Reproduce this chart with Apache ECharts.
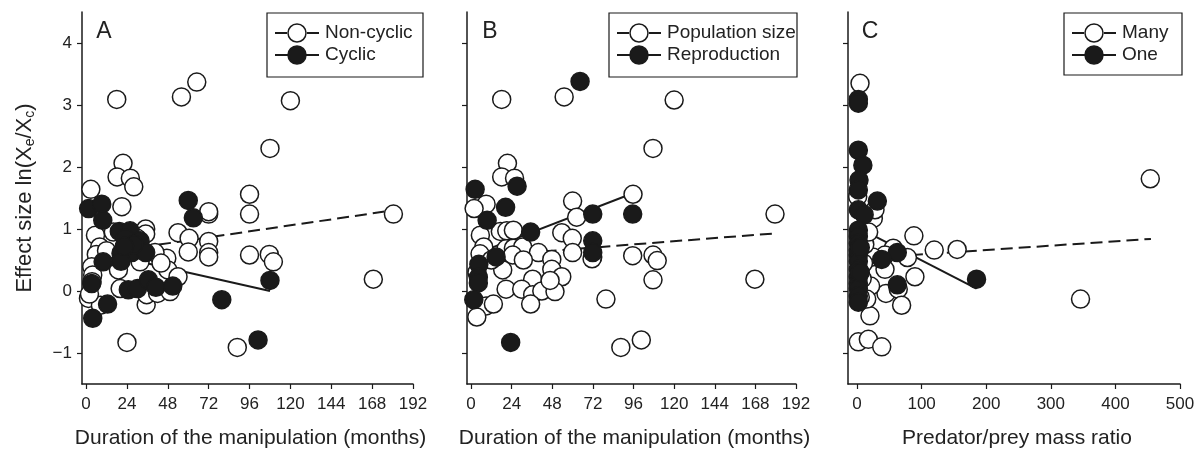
<!DOCTYPE html>
<html>
<head>
<meta charset="utf-8">
<script src="https://cdn.jsdelivr.net/npm/echarts@6/dist/echarts.min.js"></script>
<style>
html,body{margin:0;padding:0;background:#fff;}
#chart{width:1202px;height:451px;}
</style>
</head>
<body>
<div id="chart"></div>
<script>
// ---------------- DATA ----------------
const durationTicks = [0, 24, 48, 72, 96, 120, 144, 168, 192];
const massTicks = [0, 100, 200, 300, 400, 500];
const yTicks = [-1, 0, 1, 2, 3, 4];

const panelLetters = ['A', 'B', 'C'];
const legendA = ['Non-cyclic', 'Cyclic'];
const legendB = ['Population size', 'Reproduction'];
const legendC = ['Many', 'One'];
const xTitleDuration = 'Duration of the manipulation (months)';
const xTitleMass = 'Predator/prey mass ratio';

// Panel A: [duration, effect size]
const nonCyclic = [
  [18,3.09],[56,3.13],[65,3.37],[120,3.07],[108,2.30],[21.7,2.06],[18.2,1.84],[26,1.82],[28,1.68],
  [2.8,1.64],[21,1.36],[96,1.56],[96,1.24],[72,1.24],[72,1.28],[180.5,1.24],[5.5,0.90],[16,0.95],
  [35,1.0],[35,0.92],[54,0.94],[60.5,0.85],[72,0.80],[8,0.71],[6,0.59],[60,0.63],[72,0.62],[72,0.55],
  [96,0.58],[107.6,0.59],[110,0.47],[47.4,0.53],[40.5,0.62],[3.3,0.39],[19,0.34],[48,0.34],[54,0.23],
  [3.9,0.26],[20,0.04],[1.4,-0.12],[8.4,-0.23],[35.3,-0.22],[35.6,-0.06],[42,-0.04],[49.3,-0.01],
  [24,-0.83],[88.8,-0.91],[168.7,0.19],[31.7,0.47],[23,0.72],[27,0.70],[14,0.55],[3.5,0.15],[12,0.65],
  [44,0.45],[30,0.85],[2,-0.05]
];
const cyclic = [
  [1.5,1.33],[9.2,1.40],[9.8,1.14],[60,1.46],[63,1.18],[19.5,0.96],[25.8,0.97],[31.7,0.81],[20.5,0.61],
  [26.8,0.62],[35,0.62],[20.5,0.48],[10,0.47],[3.3,0.12],[12.6,-0.21],[3.9,-0.44],[24.8,0.02],[30.2,0.04],
  [36.6,0.18],[41,0.06],[50.9,0.08],[79.7,-0.14],[108,0.17],[101,-0.79],[23,0.85],[28,0.75],[22.5,0.72]
];
const fitNonCyclic = [[1,0.58],[180,1.30]];
const fitCyclic = [[1,0.66],[108,0.0]];

// Panel B: [duration, effect size]
const populationSize = [
  [18.1,3.09],[55,3.13],[120,3.08],[107.5,2.30],[21.5,2.06],[18.1,1.84],[25.7,1.82],[95.7,1.56],[60,1.45],
  [8.9,1.40],[1.8,1.33],[62.4,1.19],[179.6,1.24],[5.5,0.90],[17.3,0.96],[21.1,0.97],[25,0.98],[53.6,0.94],
  [59.8,0.85],[7.5,0.71],[5.3,0.60],[20.7,0.68],[25,0.69],[30.5,0.71],[24.6,0.58],[39.8,0.62],[47.7,0.51],
  [60,0.62],[71.9,0.55],[95.5,0.57],[107.5,0.58],[110,0.49],[18.7,0.34],[30.9,0.50],[47.7,0.35],[53.6,0.23],
  [36.4,0.19],[20.7,0.03],[29.9,0.03],[36.4,-0.06],[41.8,0.0],[49.6,-0.01],[35.2,-0.21],[8.9,-0.24],
  [13.2,-0.21],[3.4,-0.42],[79.7,-0.13],[107.5,0.18],[167.7,0.19],[88.5,-0.91],[100.6,-0.79],[71.5,0.52],
  [3.5,0.30],[12,0.5],[46.7,0.17]
];
const reproduction = [
  [64.4,3.38],[2.4,1.64],[27.2,1.69],[20.4,1.35],[9.5,1.14],[35.2,0.95],[71.9,1.24],[95.5,1.24],
  [71.9,0.81],[71.9,0.62],[14.8,0.55],[4.6,0.43],[4.3,0.22],[4.3,0.13],[1.6,-0.14],[23.4,-0.83]
];
const fitPopulation = [[1,0.55],[180,0.93]];
const fitReproduction = [[2,0.59],[96,1.58]];

// Panel C: [predator/prey mass ratio, effect size]
const manyPrey = [
  [4.6,3.35],[454,1.81],[88,0.89],[119.5,0.66],[155,0.67],[346,-0.13],[89.6,0.23],[78,0.54],[56,0.69],
  [43.3,0.58],[43.3,0.35],[44.8,-0.04],[63.8,0.03],[69,-0.23],[20,-0.40],[2,-0.82],[17.5,-0.78],
  [38.2,-0.90],[21,0.08],[15,-0.13],[24.2,0.55],[25.2,1.17],[27.8,1.31],[1,1.52],[3,0.95],[6,0.4],
  [8,0.2],[5,-0.1],[12,0.75],[10,0.45],[18,0.95]
];
const onePrey = [
  [2,3.09],[2,3.03],[2,2.27],[9,2.03],[3,1.79],[2,1.63],[31.4,1.45],[2,1.31],[11,1.23],[2,0.98],[2,0.88],
  [2,0.77],[2,0.66],[2,0.58],[2,0.48],[2,0.35],[2,0.23],[2,0.12],[2,0.04],[2,-0.08],[2,-0.18],
  [62.3,0.62],[38.2,0.51],[62.3,0.10],[185,0.19],[5,0.7],[5,0.3]
];
const fitMany = [[0,0.52],[455,0.84]];
const fitOne = [[0,1.03],[185,0.04]];

// ---------------- CHART ----------------
const FONT = 'Liberation Sans, Arial, Helvetica, sans-serif';
const INK = '#1a1a1a';
const TXT = '#222';

const grids = [
  {left: 82, top: 12, width: 331, height: 372, containLabel: false, outerBoundsMode: 'none'},
  {left: 467, top: 12, width: 329, height: 372, containLabel: false, outerBoundsMode: 'none'},
  {left: 848, top: 12, width: 332, height: 372, containLabel: false, outerBoundsMode: 'none'}
];
const xRanges = [[-2.4, 192], [-2.4, 192], [-14, 500]];
const xTicksPer = [durationTicks, durationTicks, massTicks];
const xTitles = [xTitleDuration, xTitleDuration, xTitleMass];

const xAxes = grids.map((g, i) => ({
  type: 'value', gridIndex: i, min: xRanges[i][0], max: xRanges[i][1],
  axisLine: {show: true, onZero: false, lineStyle: {color: INK, width: 1.5}},
  axisTick: {show: true, customValues: xTicksPer[i], length: 5, lineStyle: {color: INK, width: 1.2}},
  axisLabel: {show: true, customValues: xTicksPer[i], fontSize: 17, color: TXT, fontFamily: FONT, margin: 12},
  splitLine: {show: false},
  name: xTitles[i], nameLocation: 'middle', nameGap: 44,
  nameTextStyle: {fontSize: 21, color: TXT, fontFamily: FONT, padding: [0, 0, 0, 6]}
}));

const yAxes = grids.map((g, i) => ({
  type: 'value', gridIndex: i, min: -1.5, max: 4.5,
  axisLine: {show: true, onZero: false, lineStyle: {color: INK, width: 1.5}},
  axisTick: {show: true, customValues: yTicks, length: 5, lineStyle: {color: INK, width: 1.2}},
  axisLabel: {show: i === 0, customValues: yTicks, fontSize: 17, color: TXT, fontFamily: FONT, margin: 10,
    formatter: v => (v < 0 ? '\u2212' + Math.abs(v) : String(v))},
  splitLine: {show: false},
  name: i === 0 ? '{n|Effect size ln(X}{s|e}{n|/X}{s|c}{n|)}' : '',
  nameLocation: 'middle', nameGap: 45,
  nameTextStyle: {color: TXT, fontFamily: FONT,
    rich: {n: {fontSize: 22, color: TXT, fontFamily: FONT},
           s: {fontSize: 14, color: TXT, fontFamily: FONT, verticalAlign: 'bottom', padding: [10, 0, 0, 0]}}}
}));

function fitSeries(i, data, dashed) {
  return {type: 'line', xAxisIndex: i, yAxisIndex: i, data: data, showSymbol: false, symbol: 'none',
    silent: true, z: 2, lineStyle: {color: INK, width: 2, type: dashed ? [12, 6] : 'solid'}};
}
function pointSeries(i, name, data, filled) {
  return {type: 'scatter', name: name, xAxisIndex: i, yAxisIndex: i, data: data, symbol: 'circle',
    symbolSize: 18, silent: true, z: filled ? 4 : 3,
    itemStyle: {color: filled ? INK : '#fff', borderColor: INK, borderWidth: 1.5, opacity: 1}};
}

const series = [
  fitSeries(0, fitNonCyclic, true), fitSeries(0, fitCyclic, false),
  pointSeries(0, legendA[0], nonCyclic, false), pointSeries(0, legendA[1], cyclic, true),
  fitSeries(1, fitPopulation, true), fitSeries(1, fitReproduction, false),
  pointSeries(1, legendB[0], populationSize, false), pointSeries(1, legendB[1], reproduction, true),
  fitSeries(2, fitMany, true), fitSeries(2, fitOne, false),
  pointSeries(2, legendC[0], manyPrey, false), pointSeries(2, legendC[1], onePrey, true)
];

// legends drawn as graphic boxes
function legendBox(x, y, w, h, names) {
  const lx0 = x + 8, cx = x + 30, lx1 = x + 52, tx = x + 58;
  const rows = [y + 20, y + 42];
  const children = [{type: 'rect', shape: {x: x, y: y, width: w, height: h},
    style: {fill: '#fff', stroke: INK, lineWidth: 1.2}}];
  children.push({type: 'line', shape: {x1: lx0, y1: rows[0], x2: cx - 10, y2: rows[0]}, style: {stroke: INK, lineWidth: 2}});
  children.push({type: 'line', shape: {x1: cx + 10, y1: rows[0], x2: lx1, y2: rows[0]}, style: {stroke: INK, lineWidth: 2}});
  children.push({type: 'circle', shape: {cx: cx, cy: rows[0], r: 9}, style: {fill: '#fff', stroke: INK, lineWidth: 1.5}});
  children.push({type: 'line', shape: {x1: lx0, y1: rows[1], x2: lx1, y2: rows[1]}, style: {stroke: INK, lineWidth: 2}});
  children.push({type: 'circle', shape: {cx: cx, cy: rows[1], r: 9}, style: {fill: INK, stroke: INK, lineWidth: 1.5}});
  names.forEach((n, k) => children.push({type: 'text', x: tx, y: rows[k],
    style: {text: n, fontSize: 19, fill: TXT, font: '19px ' + FONT, verticalAlign: 'middle', align: 'left'}}));
  return {type: 'group', children: children};
}

const graphic = [
  legendBox(267, 13, 156, 64, legendA),
  legendBox(609, 13, 188, 64, legendB),
  legendBox(1064, 13, 118, 62, legendC),
  {type: 'text', x: 104, y: 32, style: {text: panelLetters[0], font: '23px ' + FONT, fill: TXT, align: 'center', verticalAlign: 'middle'}},
  {type: 'text', x: 490, y: 32, style: {text: panelLetters[1], font: '23px ' + FONT, fill: TXT, align: 'center', verticalAlign: 'middle'}},
  {type: 'text', x: 870, y: 32, style: {text: panelLetters[2], font: '23px ' + FONT, fill: TXT, align: 'center', verticalAlign: 'middle'}}
];

const chart = echarts.init(document.getElementById('chart'), null, {renderer: 'canvas'});
chart.setOption({
  animation: false,
  backgroundColor: '#fff',
  textStyle: {fontFamily: FONT},
  grid: grids,
  xAxis: xAxes,
  yAxis: yAxes,
  series: series,
  graphic: graphic
});
</script>
</body>
</html>
